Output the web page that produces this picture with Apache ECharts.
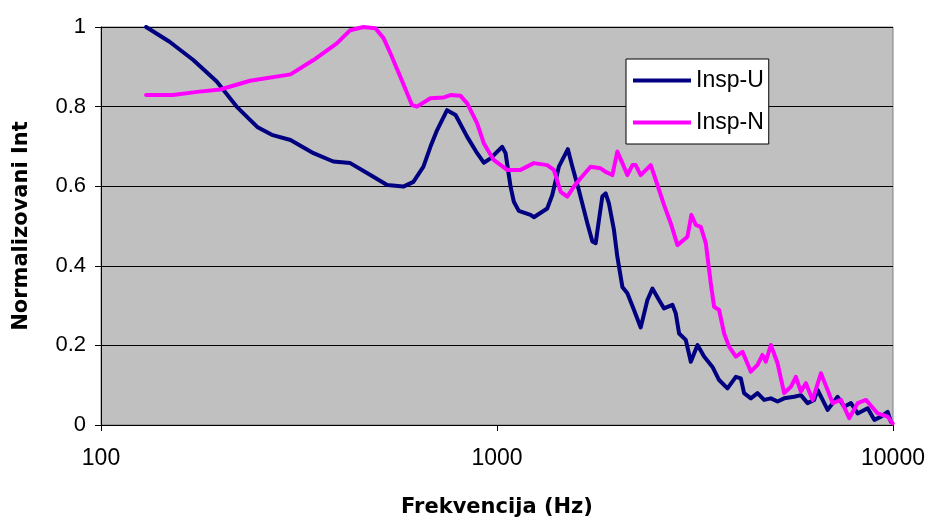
<!DOCTYPE html>
<html>
<head>
<meta charset="utf-8">
<script src="https://cdn.jsdelivr.net/npm/echarts@6/dist/echarts.min.js"></script>
<style>html,body{margin:0;padding:0;background:#fff}#c{width:927px;height:519px}</style>
</head>
<body>
<div id="c"></div>
<script>
const seriesNames = ['Insp-U', 'Insp-N'];
const xTitle = 'Frekvencija (Hz)';
const yTitle = 'Normalizovani Int';

const freqU = [130,149,171,196,220,248,270,301,344,386,426,479,528,580,615,652,679,706,748,786,841,891,926,963,1031,1051,1082,1103,1135,1215,1239,1339,1379,1433,1510,1550,1610,1691,1741,1775,1809,1845,1881,1917,1974,2013,2073,2134,2218,2306,2398,2469,2565,2641,2773,2827,2883,2997,3086,3209,3334,3501,3638,3820,4010,4128,4207,4375,4549,4727,4915,5111,5311,5630,5853,6085,6324,6450,6642,6838,7247,7532,7831,8143,8630,8970,9327,9696,9880];
const valU = [1.0,0.963,0.917,0.863,0.80,0.749,0.729,0.716,0.683,0.662,0.658,0.628,0.603,0.599,0.611,0.649,0.699,0.741,0.791,0.779,0.724,0.683,0.659,0.670,0.699,0.683,0.599,0.561,0.538,0.528,0.522,0.544,0.578,0.649,0.693,0.649,0.590,0.507,0.461,0.457,0.515,0.574,0.582,0.557,0.490,0.423,0.347,0.331,0.289,0.245,0.314,0.343,0.314,0.293,0.302,0.281,0.230,0.214,0.159,0.201,0.172,0.146,0.113,0.092,0.121,0.117,0.080,0.067,0.080,0.063,0.067,0.059,0.067,0.071,0.075,0.055,0.063,0.088,0.063,0.038,0.071,0.046,0.055,0.029,0.042,0.013,0.021,0.033,0.008];

const freqN = [130,152,175,200,238,301,344,394,426,460,493,517,538,570,610,628,679,734,763,809,841,891,926,981,1061,1147,1239,1339,1392,1448,1505,1564,1626,1723,1827,1881,1956,2013,2073,2134,2198,2240,2306,2445,2542,2641,2746,2856,3026,3097,3176,3270,3367,3466,3534,3638,3746,3856,4010,4169,4375,4549,4682,4774,4915,5111,5311,5522,5685,5853,6026,6266,6577,6838,7039,7387,7753,8143,8544,9150,9696,9980];
const valN = [0.829,0.829,0.837,0.843,0.865,0.881,0.917,0.959,0.992,1.0,0.997,0.972,0.934,0.875,0.804,0.80,0.821,0.823,0.829,0.827,0.808,0.758,0.708,0.666,0.641,0.641,0.658,0.653,0.641,0.586,0.574,0.599,0.620,0.649,0.645,0.636,0.628,0.687,0.658,0.628,0.653,0.653,0.628,0.653,0.603,0.553,0.507,0.452,0.473,0.528,0.503,0.498,0.457,0.356,0.297,0.289,0.230,0.197,0.172,0.184,0.134,0.151,0.176,0.159,0.201,0.155,0.080,0.096,0.121,0.084,0.105,0.063,0.130,0.088,0.055,0.063,0.017,0.055,0.063,0.029,0.021,0.004];

const FONT = "'Liberation Sans', Arial, sans-serif";
const TITLE_FONT = "'DejaVu Sans', 'Liberation Sans', Arial, sans-serif";
const zip = (xs, ys) => xs.map((x, i) => [x, ys[i]]);

const chart = echarts.init(document.getElementById('c'), null, {renderer: 'canvas'});
chart.setOption({
  animation: false,
  backgroundColor: '#ffffff',
  grid: {
    left: 101, right: 34, top: 27, bottom: 94,
    show: true, backgroundColor: '#C0C0C0', borderColor: '#808080', borderWidth: 1,
    containLabel: false, outerBoundsMode: 'none'
  },
  legend: {
    orient: 'vertical', left: 626, top: 59,
    padding: [10, 5, 10, 7],
    backgroundColor: '#ffffff', borderColor: '#000000', borderWidth: 1,
    icon: 'rect', itemWidth: 58, itemHeight: 4, itemGap: 19,
    textStyle: {fontFamily: FONT, fontSize: 23, lineHeight: 23, color: '#000'},
    data: seriesNames
  },
  xAxis: {
    type: 'log', logBase: 10, min: 100, max: 10000,
    name: xTitle, nameLocation: 'middle', nameGap: 72,
    nameTextStyle: {fontFamily: TITLE_FONT, fontSize: 21, fontWeight: 'bold', color: '#000'},
    axisLine: {show: true, onZero: false, lineStyle: {color: '#000', width: 1}},
    axisTick: {show: true, inside: false, length: 6, lineStyle: {color: '#000'}},
    minorTick: {show: false},
    splitLine: {show: false},
    axisLabel: {fontFamily: FONT, fontSize: 23, color: '#000', margin: 22,
      formatter: v => String(Math.round(v))}
  },
  yAxis: {
    type: 'value', min: 0, max: 1, interval: 0.2,
    name: yTitle, nameLocation: 'middle', nameGap: 69, nameRotate: 90,
    nameTextStyle: {fontFamily: TITLE_FONT, fontSize: 21, fontWeight: 'bold', color: '#000'},
    axisLine: {show: true, lineStyle: {color: '#000', width: 1}},
    axisTick: {show: true, inside: false, length: 6, lineStyle: {color: '#000'}},
    splitLine: {show: true, lineStyle: {color: '#000', width: 1}},
    axisLabel: {fontFamily: FONT, fontSize: 22, color: '#000', margin: 15}
  },
  series: [
    {
      name: seriesNames[0], type: 'line', data: zip(freqU, valU),
      showSymbol: false, symbol: 'none', smooth: false,
      lineStyle: {color: '#000080', width: 4, cap: 'round', join: 'round'},
      itemStyle: {color: '#000080'}
    },
    {
      name: seriesNames[1], type: 'line', data: zip(freqN, valN),
      showSymbol: false, symbol: 'none', smooth: false,
      lineStyle: {color: '#FF00FF', width: 4, cap: 'round', join: 'round'},
      itemStyle: {color: '#FF00FF'}
    }
  ]
});
</script>
</body>
</html>
